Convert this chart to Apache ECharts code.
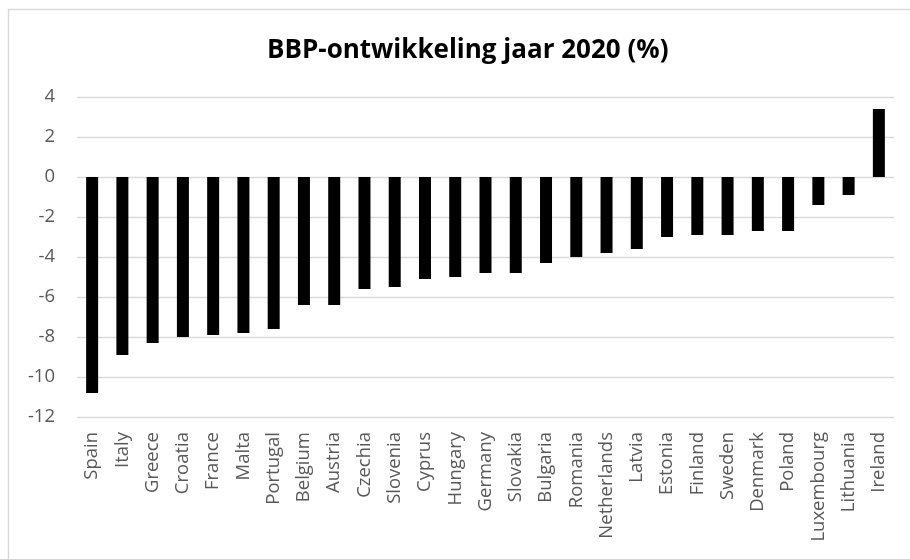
<!DOCTYPE html>
<html>
<head>
<meta charset="utf-8">
<script src="https://cdn.jsdelivr.net/npm/echarts@6/dist/echarts.min.js"></script>
<style>
html,body{margin:0;padding:0;background:#fff;}
#chart{width:910px;height:559px;}
</style>
</head>
<body>
<div id="chart"></div>
<script>
const titleText = 'BBP-ontwikkeling jaar 2020 (%)';
const countries = ['Spain','Italy','Greece','Croatia','France','Malta','Portugal','Belgium','Austria','Czechia','Slovenia','Cyprus','Hungary','Germany','Slovakia','Bulgaria','Romania','Netherlands','Latvia','Estonia','Finland','Sweden','Denmark','Poland','Luxembourg','Lithuania','Ireland'];
const growth = [-10.8,-8.9,-8.3,-8.0,-7.9,-7.8,-7.6,-6.4,-6.4,-5.6,-5.5,-5.1,-5.0,-4.8,-4.8,-4.3,-4.0,-3.8,-3.6,-3.0,-2.9,-2.9,-2.7,-2.7,-1.4,-0.9,3.4];
const yMin = -12, yMax = 4, yStep = 2;

const chart = echarts.init(document.getElementById('chart'));
chart.setOption({
  animation: false,
  backgroundColor: '#fff',
  graphic: [{
    type: 'rect',
    shape: {x: 8.5, y: 9.5, width: 920, height: 570},
    style: {fill: 'none', stroke: '#d9d9d9', lineWidth: 1.5},
    silent: true
  }],
  title: {
    text: titleText,
    left: 262,
    top: 33,
    textStyle: {fontFamily: 'Open Sans', fontWeight: 'bold', fontSize: 26, color: '#000'}
  },
  grid: {left: 77, right: 16, top: 97, bottom: 142, containLabel: false},
  xAxis: {
    type: 'category',
    data: countries,
    axisLine: {show: false, onZero: false},
    axisTick: {show: false},
    axisLabel: {rotate: 90, interval: 0, margin: 15, color: '#595959', fontFamily: 'Open Sans', fontSize: 18.5}
  },
  yAxis: {
    type: 'value',
    min: yMin, max: yMax, interval: yStep,
    axisLine: {show: false},
    axisTick: {show: false},
    splitLine: {lineStyle: {color: '#d9d9d9', width: 1.3}},
    axisLabel: {margin: 22, color: '#595959', fontFamily: 'Open Sans', fontSize: 18.5}
  },
  series: [{
    type: 'bar',
    data: growth,
    barWidth: 12,
    itemStyle: {color: '#000'}
  }]
});
</script>
</body>
</html>
